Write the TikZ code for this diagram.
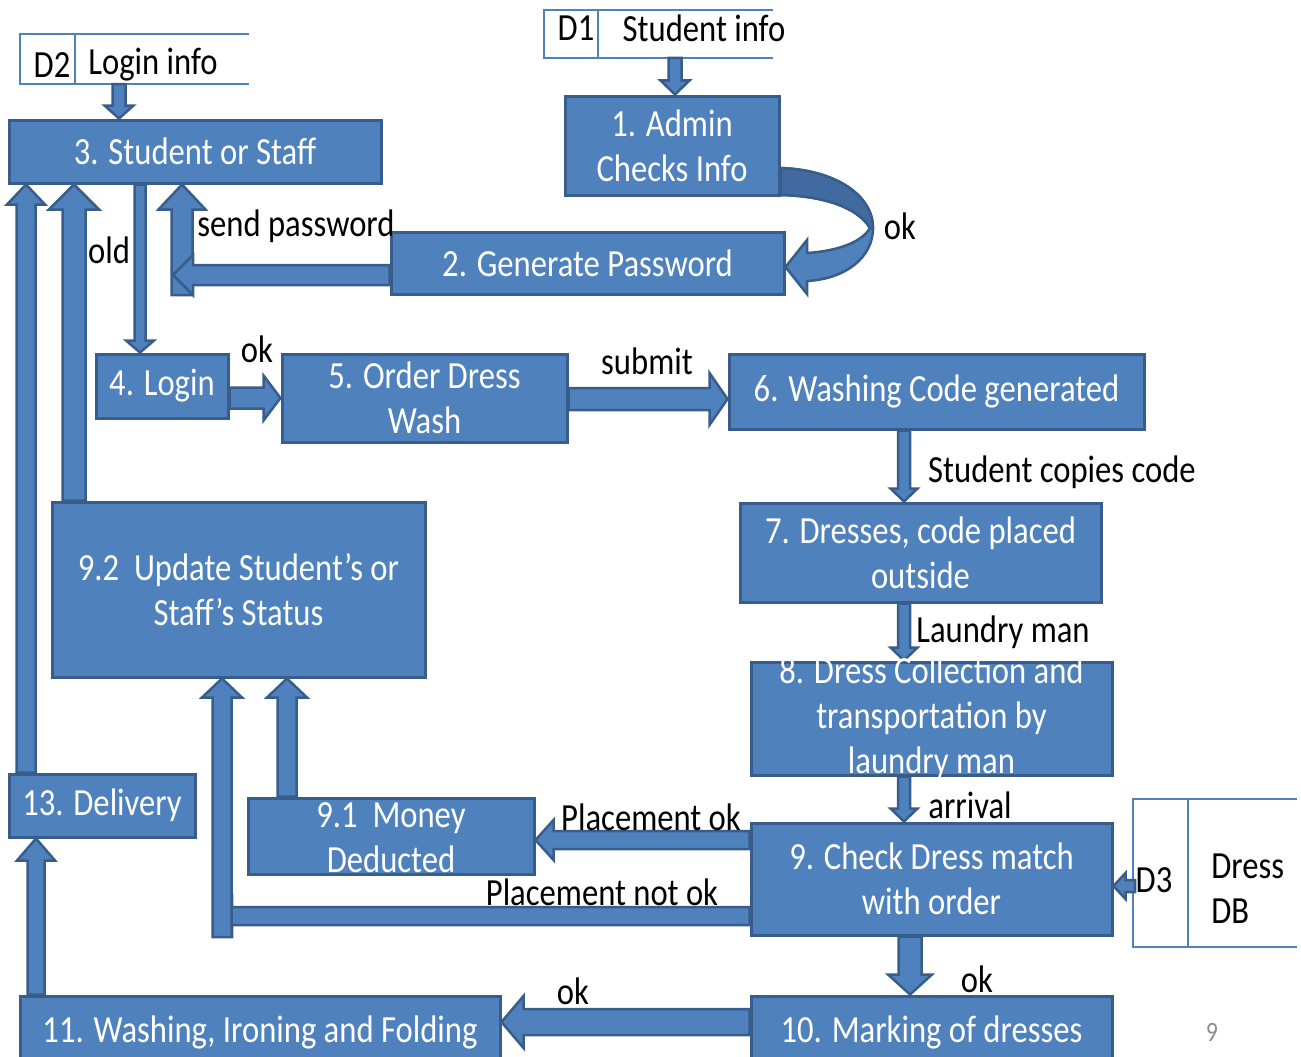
\documentclass[tikz,border=0pt]{standalone}
\usepackage{fontspec}
\setmainfont{Carlito}[FakeStretch=0.85]
\usepackage{tikz}
\usetikzlibrary{calc}
\tikzset{every picture/.style={line width=0.75pt}}

\definecolor{procfill}{RGB}{79,129,189}
\definecolor{procline}{RGB}{56,93,138}
\definecolor{bendfill}{RGB}{64,106,160}
\definecolor{pagegrey}{RGB}{140,140,140}

\newcommand{\dfdfont}{\fontsize{38.4}{45}\selectfont}

\tikzset{
  procbox/.style={draw=procline, fill=procfill, line width=3pt, text=white, font=\dfdfont, align=center, inner sep=0pt},
  proctext/.style={text=white, font=\dfdfont, align=center, inner sep=0pt},
  flowlabel/.style={font=\dfdfont, inner sep=0pt},
  storeline/.style={draw=procfill, line width=2pt},
  blockarrow/.style={draw=procline, fill=procfill, line width=2.5pt, line join=miter},
}

% block arrow: from, to, half shaft, half head, head length
\newcommand{\flowarrow}[5]{%
  \coordinate (fa) at (#1);
  \coordinate (fb) at (#2);
  \coordinate (fh) at ($(fb)!#5!(fa)$);
  \filldraw[blockarrow] ($(fa)!#3!90:(fb)$) -- ($(fh)!#3!-90:(fa)$) -- ($(fh)!#4!-90:(fa)$) -- (fb)
    -- ($(fh)!#4!90:(fa)$) -- ($(fh)!#3!90:(fa)$) -- ($(fa)!#3!-90:(fb)$) -- cycle;
}

\begin{document}
\begin{tikzpicture}[x=1pt,y=1pt,yscale=-1,xscale=1]
	\useasboundingbox (0,0) rectangle (1301,1057);

	%Shape: Data Store D2
	\draw [storeline] (249,34) -- (20,34) -- (20,84) -- (249,84) ;
	\draw [storeline] (75,34) -- (75,84) ;
	\coordinate (d2out) at (119,84);
	%Shape: Data Store D1
	\draw [storeline] (773,10) -- (544,10) -- (544,58) -- (773,58) ;
	\draw [storeline] (598,10) -- (598,58) ;
	\coordinate (d1out) at (675,58);
	%Shape: Data Store D3
	\draw [storeline] (1297,799) -- (1133,799) -- (1133,947) -- (1297,947) ;
	\draw [storeline] (1188,799) -- (1188,947) ;
	\coordinate (d3out) at (1135,886);

	%Shape: Rectangle
	\node [procbox, minimum width=372pt, minimum height=63pt] (b3) at (195,151.5) {3. Student or Staff};
	%Shape: Rectangle
	\node [procbox, minimum width=214pt, minimum height=99pt] (b1) at (672,145.5) {1. Admin\\Checks Info};
	%Shape: Rectangle
	\node [procbox, minimum width=393pt, minimum height=62pt] (b2) at (587.5,263) {2. Generate Password};
	%Shape: Rectangle
	\node [procbox, minimum width=132pt, minimum height=64pt] (b4) at (162,386) {4. Login};
	%Shape: Rectangle
	\node [procbox, minimum width=285pt, minimum height=88pt] (b5) at (424.5,398) {5. Order Dress\\Wash};
	%Shape: Rectangle
	\node [procbox, minimum width=415pt, minimum height=75pt] (b6) at (936.5,391.5) {6. Washing Code generated};
	%Shape: Rectangle
	\node [procbox, minimum width=361pt, minimum height=99pt] (b7) at (920.5,552.5) {7. Dresses, code placed\\outside};
	%Shape: Rectangle
	\node [procbox, minimum width=361pt, minimum height=113pt] (b8) at (931.5,718.5) {};
	%Shape: Rectangle
	\node [procbox, minimum width=373pt, minimum height=175pt] (b92) at (238.5,589.5) {9.2~~Update Student’s or\\Staff’s Status};
	%Shape: Rectangle
	\node [procbox, minimum width=186pt, minimum height=63pt] (b13) at (102,805.5) {13. Delivery};
	%Shape: Rectangle
	\node [procbox, minimum width=286pt, minimum height=76pt] (b91) at (391,836) {};
	%Shape: Rectangle
	\node [procbox, minimum width=361pt, minimum height=112pt] (b9) at (931.5,879) {9. Check Dress match\\with order};
	%Shape: Rectangle
	\node [procbox, minimum width=361pt, minimum height=72pt] (b10) at (931.5,1032) {10. Marking of dresses};
	%Shape: Rectangle
	\node [procbox, minimum width=480pt, minimum height=72pt] (b11) at (260,1032) {11. Washing, Ironing and Folding};

	%Block Arrows
	\flowarrow{d2out}{b3.north -| 119,0}{6.5pt}{14.5pt}{13pt}
	\flowarrow{d1out}{b1.north -| 675,0}{6.5pt}{14.5pt}{14pt}
	\flowarrow{b3.south -| 140,0}{b4.north -| 140,0}{5.5pt}{14pt}{12pt}
	\flowarrow{b92.north -| 74,0}{b3.south -| 74,0}{11.5pt}{25pt}{25pt}
	\flowarrow{b13.north -| 26,0}{b3.south -| 26,0}{9.5pt}{19pt}{20pt}
	\flowarrow{182,295}{b3.south -| 182,0}{10.5pt}{23.5pt}{25pt}
	\flowarrow{b2.west |- 0,275}{173,275}{10pt}{20pt}{20pt}
	\flowarrow{b4.east |- 0,398}{b5.west |- 0,398}{10.5pt}{22.5pt}{17pt}
	\flowarrow{b5.east |- 0,399}{b6.west |- 0,399}{11pt}{26pt}{18pt}
	\flowarrow{b6.south -| 904,0}{b7.north -| 904,0}{6pt}{13.5pt}{13pt}
	\flowarrow{b7.south -| 904,0}{b8.north -| 904,0}{6pt}{13.5pt}{13pt}
	\flowarrow{b8.south -| 904,0}{b9.north -| 904,0}{6pt}{13.5pt}{13pt}
	\flowarrow{b9.west |- 0,840}{b91.east |- 0,840}{9pt}{20pt}{18pt}
	\flowarrow{b9.west |- 0,916}{214,916}{9pt}{19pt}{18pt}
	\flowarrow{222,937}{b92.south -| 222,0}{9.5pt}{20pt}{19pt}
	\flowarrow{b91.north -| 287,0}{b92.south -| 287,0}{9.5pt}{20pt}{19pt}
	\flowarrow{b9.south -| 910,0}{b10.north -| 910,0}{11.5pt}{22pt}{20pt}
	\flowarrow{b10.west |- 0,1022}{b11.east |- 0,1022}{13pt}{26pt}{22pt}
	\flowarrow{b11.north -| 36,0}{b13.south -| 36,0}{8.5pt}{19pt}{22pt}
	\flowarrow{d3out}{b9.east |- 0,886}{6pt}{13pt}{12pt}

	%Curved Block Arrow
	\filldraw [blockarrow] (781,168) .. controls (835,170) and (873,195) .. (873,228) .. controls (873,258) and (845,279) .. (807,281) -- (807,294) -- (b2.east |- 0,267) -- (807,240) -- (807,253) .. controls (838,251) and (862,242) .. (870,228) .. controls (858,208) and (825,196) .. (781,195) -- cycle ;
	\filldraw [blockarrow, fill=bendfill] (781,168) .. controls (835,170) and (873,195) .. (873,228) -- (870,228) .. controls (858,208) and (825,196) .. (781,195) -- cycle ;

	% Text Node
	\node [proctext] (t8) at (b8.center) {8. Dress Collection and\\transportation by\\laundry man};
	% Text Node
	\node [proctext] (t91) at (391,837.5) {9.1~~Money\\Deducted};
	% Text Node
	\node [flowlabel] (d2id) at (52,65) {D2};
	\node [flowlabel] (d2name) at (153,65) {Login info};
	% Text Node
	\node [flowlabel] (d1id) at (576,28) {D1};
	\node [flowlabel] (d1name) at (704,28) {Student info};
	% Text Node
	\node [flowlabel] (d3id) at (1154,880) {D3};
	\node [flowlabel, anchor=west, align=left] (d3name) at (1211,889) {Dress\\DB};
	% Text Node
	\node [flowlabel] (lold) at (109,250) {old};
	\node [flowlabel] (lsend) at (296,226) {send password};
	\node [flowlabel] (lok1) at (900,226) {ok};
	\node [flowlabel] (lok2) at (257,349) {ok};
	\node [flowlabel] (lsubmit) at (647,361) {submit};
	\node [flowlabel] (lcopy) at (1062,472) {Student copies code};
	\node [flowlabel] (llaundry) at (1003,632) {Laundry man};
	\node [flowlabel] (larrival) at (970,805) {arrival};
	\node [flowlabel] (lplok) at (651,817) {Placement ok};
	\node [flowlabel] (lplnot) at (602,892) {Placement not ok};
	\node [flowlabel] (lok3) at (977,979) {ok};
	\node [flowlabel] (lok4) at (573,991) {ok};
	% Text Node
	\node [text=pagegrey, font=\fontsize{28}{32}\selectfont, inner sep=0pt] (pageno) at (1212,1032) {9};
\end{tikzpicture}
\end{document}
